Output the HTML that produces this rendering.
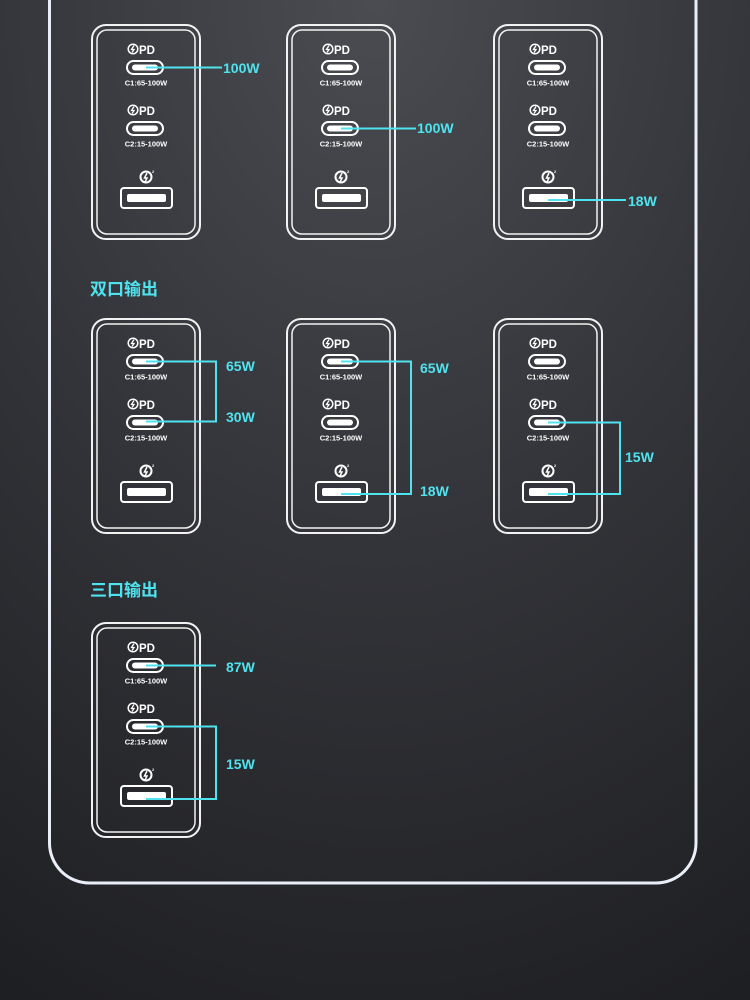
<!DOCTYPE html>
<html><head><meta charset="utf-8"><style>
html,body{margin:0;padding:0;width:750px;height:1000px;overflow:hidden;background:#2a2b2f}
svg{display:block}
.t{font-family:"Liberation Sans","Noto Sans CJK SC",sans-serif;font-weight:bold}
</style></head><body>
<svg width="750" height="1000" viewBox="0 0 750 1000" xmlns="http://www.w3.org/2000/svg">
<defs>
<radialGradient id="bg" cx="0.5" cy="0.0" r="1.1">
<stop offset="0" stop-color="#4a4c51"/>
<stop offset="0.5" stop-color="#333439"/>
<stop offset="1" stop-color="#1e1f22"/>
</radialGradient>
</defs>
<rect width="750" height="1000" fill="url(#bg)"/>
<path d="M49.5 -10 V843 a40 40 0 0 0 40 40 H656 a40 40 0 0 0 40 -40 V-10" fill="none" stroke="#e9eef8" stroke-width="3"/>

<g id="c1" transform="translate(91,24)">
<rect x="1" y="1" width="108" height="214" rx="14" fill="none" stroke="#f2f2f2" stroke-width="2"/>
<rect x="6" y="6" width="98" height="204" rx="10" fill="none" stroke="#f2f2f2" stroke-width="1.5"/>
<circle cx="42" cy="25" r="4.8" fill="none" stroke="#fff" stroke-width="1.5"/><path d="M43 21.5 L40.5 25.5 H43 L41 28.5" fill="none" stroke="#fff" stroke-width="1.3"/>
<text class="t" x="48" y="30" font-size="11.5" fill="#fff">PD</text>
<rect x="36" y="37" width="36" height="13" rx="6.5" fill="none" stroke="#fff" stroke-width="2"/><rect x="41" y="40.5" width="26" height="6" rx="3" fill="#fff"/>
<text class="t" x="55" y="61.5" font-size="7.5" fill="#fff" text-anchor="middle">C1:65-100W</text>
<circle cx="42" cy="86" r="4.8" fill="none" stroke="#fff" stroke-width="1.5"/><path d="M43 82.5 L40.5 86.5 H43 L41 89.5" fill="none" stroke="#fff" stroke-width="1.3"/>
<text class="t" x="48" y="91" font-size="11.5" fill="#fff">PD</text>
<rect x="36" y="98" width="36" height="13" rx="6.5" fill="none" stroke="#fff" stroke-width="2"/><rect x="41" y="101.5" width="26" height="6" rx="3" fill="#fff"/>
<text class="t" x="55" y="122.5" font-size="7.5" fill="#fff" text-anchor="middle">C2:15-100W</text>
<circle cx="55" cy="153" r="5.5" fill="none" stroke="#fff" stroke-width="2"/><path d="M56 149 L53.5 154 H56 L54 158" fill="none" stroke="#fff" stroke-width="1.5"/><text class="t" x="61" y="149" font-size="4" fill="#fff">2</text>
<rect x="30" y="164" width="51" height="20" rx="3" fill="none" stroke="#fff" stroke-width="2"/><rect x="36" y="170" width="39" height="8" rx="2" fill="#fff"/>
</g>
<use href="#c1" transform="translate(195,0)"/>
<use href="#c1" transform="translate(402,0)"/>
<use href="#c1" transform="translate(0,294)"/>
<use href="#c1" transform="translate(195,294)"/>
<use href="#c1" transform="translate(402,294)"/>
<use href="#c1" transform="translate(0,598)"/>

<g stroke="#4fe3ef" stroke-width="2" fill="none">
<path d="M146 67.5 H222"/>
<path d="M341 128.5 H416"/>
<path d="M548 200 H626"/>
<path d="M146 361.5 H216 V421.5 H146"/>
<path d="M341 361.5 H411 V494 H341"/>
<path d="M548 422.5 H620 V494 H548"/>
<path d="M146 665.5 H216"/>
<path d="M146 726.5 H216 V799 H146"/>
</g>
<g class="t" fill="#4fe3ef" font-size="14">
<text x="223" y="73">100W</text>
<text x="417" y="133">100W</text>
<text x="628" y="206">18W</text>
<text x="226" y="371">65W</text>
<text x="226" y="422">30W</text>
<text x="420" y="373">65W</text>
<text x="420" y="496">18W</text>
<text x="625" y="462">15W</text>
<text x="226" y="672">87W</text>
<text x="226" y="769">15W</text>
<text x="90" y="295" font-size="17">双口输出</text>
<text x="90" y="596" font-size="17">三口输出</text>
</g>
</svg>
</body></html>
